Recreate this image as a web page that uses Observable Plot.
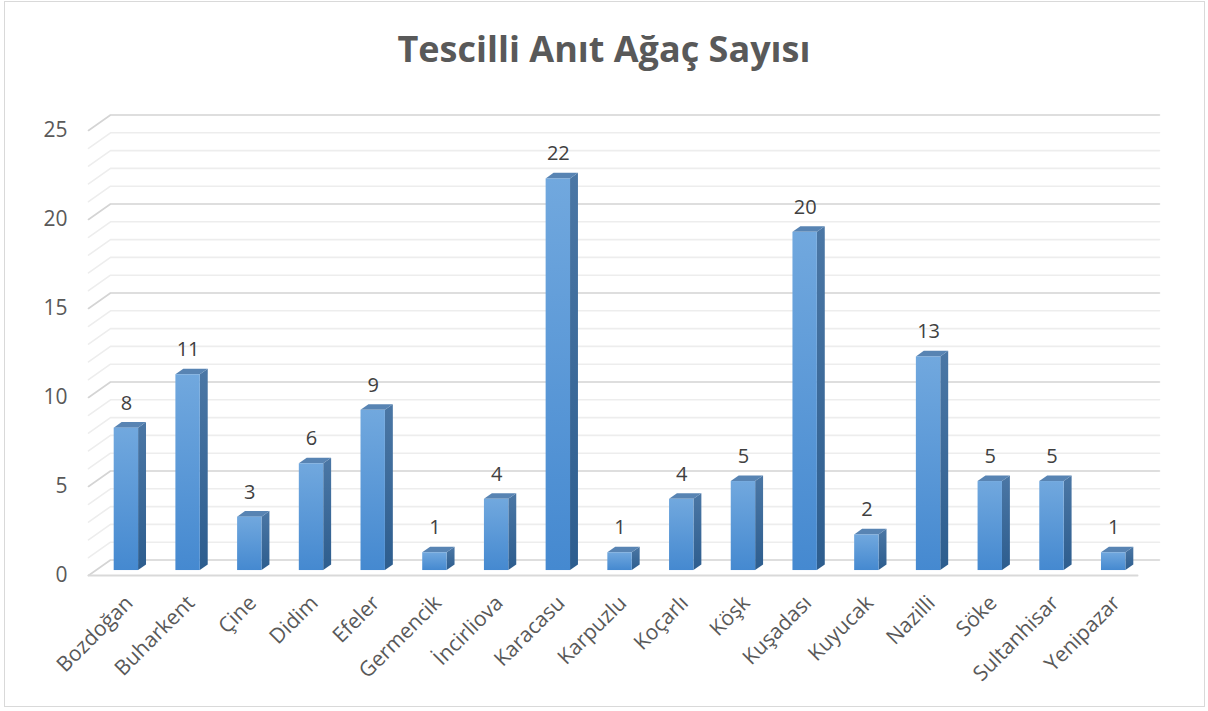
<!DOCTYPE html>
<html>
<head>
<meta charset="utf-8">
<script src="https://cdn.jsdelivr.net/npm/d3@7"></script>
<script src="https://cdn.jsdelivr.net/npm/@observablehq/plot@0.6"></script>
<style>
  html, body { margin: 0; padding: 0; background: #fff; }
  #wrap { position: relative; width: 1208px; height: 711px; overflow: hidden; }
  #frame { position: absolute; left: 4px; top: 1px; width: 1201px; height: 706px; border: 1px solid #d9d9d9; box-sizing: border-box; pointer-events: none; }
  #title { height: 95px; box-sizing: border-box; padding-top: 29px; text-align: center; font-family: "Open Sans", sans-serif; font-weight: 700; font-size: 36px; line-height: 40px; color: #595959; }
  #chart svg { display: block; }
</style>
</head>
<body>
<div id="wrap">
  <div id="title">Tescilli Anıt Ağaç Sayısı</div>
  <div id="chart"></div>
  <div id="frame"></div>
</div>
<script>
// ---- data ----
const categories = ["Bozdoğan","Buharkent","Çine","Didim","Efeler","Germencik","İncirliova","Karacasu","Karpuzlu","Koçarlı","Köşk","Kuşadası","Kuyucak","Nazilli","Söke","Sultanhisar","Yenipazar"];
const values = [8, 11, 3, 6, 9, 1, 4, 22, 1, 4, 5, 19, 2, 12, 5, 5, 1];
const valueLabels = ["8","11","3","6","9","1","4","22","1","4","5","20","2","13","5","5","1"];
const yTicks = [0, 5, 10, 15, 20, 25];
const gridValues = d3.range(0, 26);

// ---- geometry (3D look) ----
const W = 1208, H = 616;
const mL = 88, mR = 71, mT = 35, mB = 136;
const n = categories.length;
const pxX = (W - mL - mR) / n, pxY = (H - mT - mB) / 25;
const DX = 22 / pxX, DY = 15.5 / pxY;        // full depth of the wall/floor in data units
const f0 = 0.32, bd = 0.36;                    // bar front depth and bar depth fractions
const hw = 12.2 / pxX;                          // half bar width
const base = f0 * DY;

const rows = categories.map((c, i) => {
  const cx = i + 0.5 + f0 * DX;
  return {c, i, v: values[i], label: valueLabels[i], x1: cx - hw, x2: cx + hw, cx};
});

const gridPts = [];
gridValues.forEach(v => {
  gridPts.push({id: v, major: v % 5 === 0, x: 0, y: v});
  gridPts.push({id: v, major: v % 5 === 0, x: DX, y: v + DY});
  gridPts.push({id: v, major: v % 5 === 0, x: n + DX, y: v + DY});
});

const sidePts = [];
const topPts = [];
rows.forEach(r => {
  const b = base, t = base + r.v;
  sidePts.push({id: r.i, x: r.x2, y1: b, y2: t});
  sidePts.push({id: r.i, x: r.x2 + bd * DX, y1: b + bd * DY, y2: t + bd * DY});
  topPts.push({id: r.i, x: r.x1, y1: t, y2: t});
  topPts.push({id: r.i, x: r.x1 + bd * DX, y1: t, y2: t + bd * DY});
  topPts.push({id: r.i, x: r.x2, y1: t, y2: t + bd * DY});
  topPts.push({id: r.i, x: r.x2 + bd * DX, y1: t + bd * DY, y2: t + bd * DY});
});

const chart = Plot.plot({
  width: W, height: H,
  marginLeft: mL, marginRight: mR, marginTop: mT, marginBottom: mB,
  style: {fontFamily: "'Open Sans', sans-serif", background: "transparent", overflow: "visible"},
  x: {type: "linear", domain: [0, n], axis: null},
  y: {domain: [0, 25], axis: null},
  marks: [
    Plot.line(gridPts.filter(d => !d.major), {x: "x", y: "y", z: "id", stroke: "#ededed", strokeWidth: 1.6}),
    Plot.line(gridPts.filter(d => d.major), {x: "x", y: "y", z: "id", stroke: "#d4d4d4", strokeWidth: 1.6}),
    Plot.line([{x: 0, y: 0}, {x: n, y: 0}], {x: "x", y: "y", stroke: "#d9d9d9", strokeWidth: 2}),
    Plot.axisY(yTicks, {tickSize: 0, tickPadding: 21, fontSize: 21, fill: "#595959", tickFormat: d => String(d)}),
    Plot.areaY(sidePts, {x: "x", y1: "y1", y2: "y2", z: "id", fill: "url(#gSide)", curve: "linear"}),
    Plot.areaY(topPts, {x: "x", y1: "y1", y2: "y2", z: "id", fill: "#5884b3", curve: "linear"}),
    Plot.rect(rows, {x1: "x1", x2: "x2", y1: base, y2: d => base + d.v, fill: "url(#gFront)"}),
    Plot.text(rows, {x: "cx", y: d => base + d.v, text: "label", dy: -25, fontSize: 20, fill: "#404040", lineAnchor: "middle"}),
    Plot.text(rows, {x: d => d.i + 0.5, y: 0, text: "c", rotate: -45, textAnchor: "end", lineAnchor: "middle", dx: 10, dy: 24, fontSize: 21, fill: "#595959"})
  ]
});

const defs = d3.select(chart).insert("defs", ":first-child");
const g1 = defs.append("linearGradient").attr("id", "gFront").attr("x1", 0).attr("y1", 0).attr("x2", 0).attr("y2", 1);
g1.append("stop").attr("offset", "0%").attr("stop-color", "#71a8de");
g1.append("stop").attr("offset", "100%").attr("stop-color", "#4589d0");
const g2 = defs.append("linearGradient").attr("id", "gSide").attr("x1", 0).attr("y1", 0).attr("x2", 0).attr("y2", 1);
g2.append("stop").attr("offset", "0%").attr("stop-color", "#4b77a5");
g2.append("stop").attr("offset", "100%").attr("stop-color", "#2d5d8e");

document.getElementById("chart").appendChild(chart);
</script>
</body>
</html>
